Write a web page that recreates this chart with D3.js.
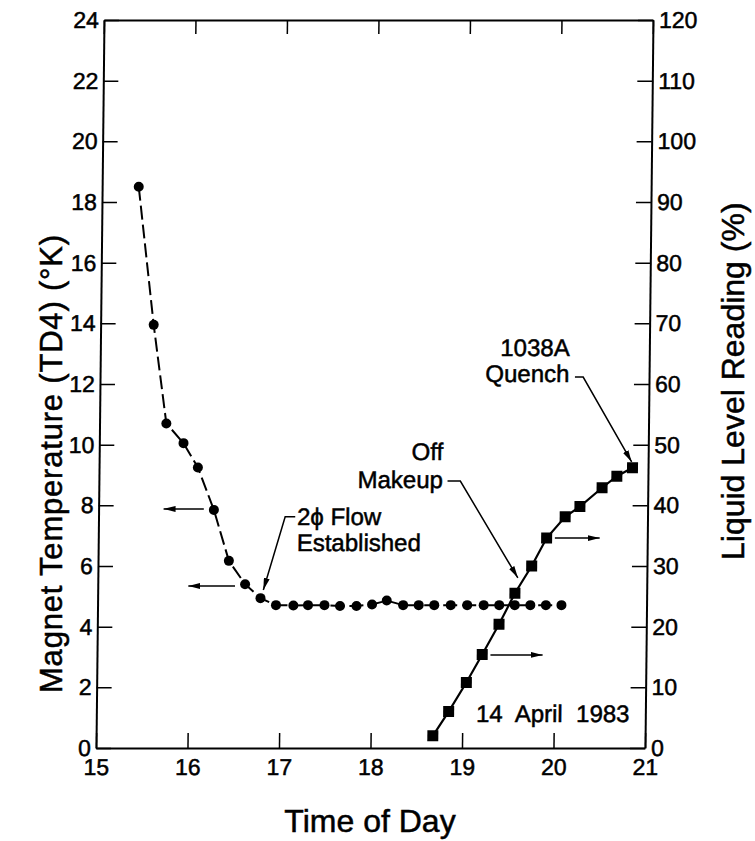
<!DOCTYPE html>
<html>
<head>
<meta charset="utf-8">
<script src="https://cdnjs.cloudflare.com/ajax/libs/d3/7.8.5/d3.min.js"></script>
<style>
body { margin: 0; background: #fff; }
svg { font-family: "Liberation Sans", Arial, Helvetica, sans-serif; }
svg text { fill: #000; stroke: #000; stroke-width: 0.5px; }
</style>
</head>
<body>
<svg></svg>
<script>
var width = 755;
var height = 841;

// magnet temperature TD4 (K), left axis
var tempTimes = [15.40, 15.58, 15.73, 15.92, 16.08, 16.26, 16.43, 16.61, 16.78, 16.95,
                 17.14, 17.30, 17.48, 17.65, 17.83, 18.00, 18.16, 18.34, 18.51, 18.68,
                 18.86, 19.04, 19.22, 19.39, 19.56, 19.73, 19.90, 20.07];
var tempValues = [18.5, 13.95, 10.7, 10.05, 9.25, 7.85, 6.17, 5.4, 4.94, 4.71,
                  4.70, 4.71, 4.71, 4.68, 4.68, 4.73, 4.86, 4.71, 4.71, 4.71,
                  4.71, 4.71, 4.71, 4.71, 4.71, 4.71, 4.71, 4.71];

// liquid level reading (%), right axis
var levelTimes = [18.68, 18.85, 19.04, 19.21, 19.39, 19.56, 19.74, 19.90, 20.10, 20.26, 20.50, 20.66, 20.83];
var levelValues = [2.0, 6.0, 10.8, 15.4, 20.4, 25.5, 30.0, 34.6, 38.1, 39.8, 42.9, 44.8, 46.2];

var xTicks = [15, 16, 17, 18, 19, 20, 21];
var leftTicks = [0, 2, 4, 6, 8, 10, 12, 14, 16, 18, 20, 22, 24];
var rightTicks = [0, 10, 20, 30, 40, 50, 60, 70, 80, 90, 100, 110, 120];

// notes, placed in time / temperature units
var notes = [
    {text: "2\u03d5 Flow", x: 17.17, y: 7.62, anchor: "start"},
    {text: "Established", x: 17.17, y: 6.76, anchor: "start"},
    {text: "Off", x: 18.76, y: 9.76, anchor: "end"},
    {text: "Makeup", x: 18.76, y: 8.84, anchor: "end"},
    {text: "1038A", x: 20.13, y: 13.19, anchor: "end"},
    {text: "Quench", x: 20.13, y: 12.33, anchor: "end"},
    {text: "14  April  1983", x: 19.15, y: 1.15, anchor: "start"}
];
var leaders = [
    [[17.15, 7.62], [17.04, 7.62], [16.81, 5.21]],
    [[18.81, 8.80], [18.95, 8.80], [19.59, 5.61]],
    [[20.19, 12.23], [20.28, 12.23], [20.82, 9.43]],
    [[16.15, 7.88], [15.71, 7.88]],
    [[16.50, 5.34], [15.99, 5.34]],
    [[19.99, 6.92], [20.48, 6.92]],
    [[19.30, 3.07], [19.87, 3.07]]
];

var xScale = d3.scaleLinear().domain([15, 21]).range([96, 645]);
var yLeft = d3.scaleLinear().domain([0, 24]).range([748, 20]);
var yRight = d3.scaleLinear().domain([0, 120]).range([748, 20]);

var svg = d3.select("svg")
    .attr("width", width)
    .attr("height", height);

svg.append("defs").append("marker")
    .attr("id", "head")
    .attr("viewBox", "0 0 12 6")
    .attr("refX", 12)
    .attr("refY", 3)
    .attr("markerWidth", 12)
    .attr("markerHeight", 6)
    .attr("markerUnits", "userSpaceOnUse")
    .attr("orient", "auto")
    .append("path")
    .attr("d", "M0,0L12,3L0,6Z")
    .attr("fill", "#000");

// the scanned figure leans a little to the right at the top
var chart = svg.append("g")
    .attr("transform", "translate(8.2,0) skewX(-0.63)");

chart.append("g")
    .attr("transform", "translate(0,748)")
    .call(d3.axisBottom(xScale).tickValues(xTicks).tickSize(-15).tickSizeOuter(0).tickPadding(11).tickFormat(d3.format("d")));

chart.append("g")
    .attr("transform", "translate(0,20)")
    .call(d3.axisTop(xScale).tickValues(xTicks).tickSize(-14).tickSizeOuter(0).tickFormat(""));

chart.append("g")
    .attr("transform", "translate(96,0)")
    .call(d3.axisLeft(yLeft).tickValues(leftTicks).tickSize(-15).tickSizeOuter(0).tickPadding(5));

chart.append("g")
    .attr("transform", "translate(645,0)")
    .call(d3.axisRight(yRight).tickValues(rightTicks).tickSize(-15).tickSizeOuter(0).tickPadding(6));

chart.selectAll(".domain").attr("stroke", "#000").attr("stroke-width", 2);
chart.selectAll(".tick line").attr("stroke", "#000").attr("stroke-width", 1.5);
chart.selectAll(".tick text")
    .attr("font-family", "'Liberation Sans', Arial, sans-serif")
    .attr("font-size", 23);

var tempLine = d3.line()
    .x((d, i) => xScale(tempTimes[i]))
    .y(d => yLeft(d));

chart.append("path")
    .datum(tempValues)
    .attr("d", tempLine)
    .attr("fill", "none")
    .attr("stroke", "#000")
    .attr("stroke-width", 2)
    .attr("stroke-dasharray", "14,5");

chart.selectAll("circle.temp")
    .data(tempValues)
    .enter()
    .append("circle")
    .attr("class", "temp")
    .attr("cx", (d, i) => xScale(tempTimes[i]))
    .attr("cy", d => yLeft(d))
    .attr("r", 5)
    .attr("fill", "#000");

var levelLine = d3.line()
    .x((d, i) => xScale(levelTimes[i]))
    .y(d => yRight(d));

chart.append("path")
    .datum(levelValues)
    .attr("d", levelLine)
    .attr("fill", "none")
    .attr("stroke", "#000")
    .attr("stroke-width", 2.2);

var sq = 11;
chart.selectAll("rect.level")
    .data(levelValues)
    .enter()
    .append("rect")
    .attr("class", "level")
    .attr("x", (d, i) => xScale(levelTimes[i]) - sq / 2)
    .attr("y", d => yRight(d) - sq / 2)
    .attr("width", sq)
    .attr("height", sq)
    .attr("fill", "#000");

var leaderLine = d3.line()
    .x(d => xScale(d[0]))
    .y(d => yLeft(d[1]));

chart.selectAll("path.leader")
    .data(leaders)
    .enter()
    .append("path")
    .attr("class", "leader")
    .attr("d", leaderLine)
    .attr("fill", "none")
    .attr("stroke", "#000")
    .attr("stroke-width", 1.5)
    .attr("marker-end", "url(#head)");

chart.selectAll("text.note")
    .data(notes)
    .enter()
    .append("text")
    .attr("class", "note")
    .attr("x", d => xScale(d.x))
    .attr("y", d => yLeft(d.y))
    .attr("dy", "0.35em")
    .attr("text-anchor", d => d.anchor)
    .attr("font-size", 24)
    .style("white-space", "pre")
    .text(d => d.text);

svg.append("text")
    .attr("x", 370)
    .attr("y", 832)
    .attr("text-anchor", "middle")
    .attr("font-size", 32)
    .text("Time of Day");

svg.append("text")
    .attr("transform", "translate(62,693) rotate(-90)")
    .attr("text-anchor", "start")
    .attr("font-size", 31)
    .attr("letter-spacing", 0.8)
    .text("Magnet Temperature (TD4) (\u00b0K)");

svg.append("text")
    .attr("transform", "translate(744,560) rotate(-90)")
    .attr("text-anchor", "start")
    .attr("font-size", 32)
    .text("Liquid Level Reading (%)");
</script>
</body>
</html>
